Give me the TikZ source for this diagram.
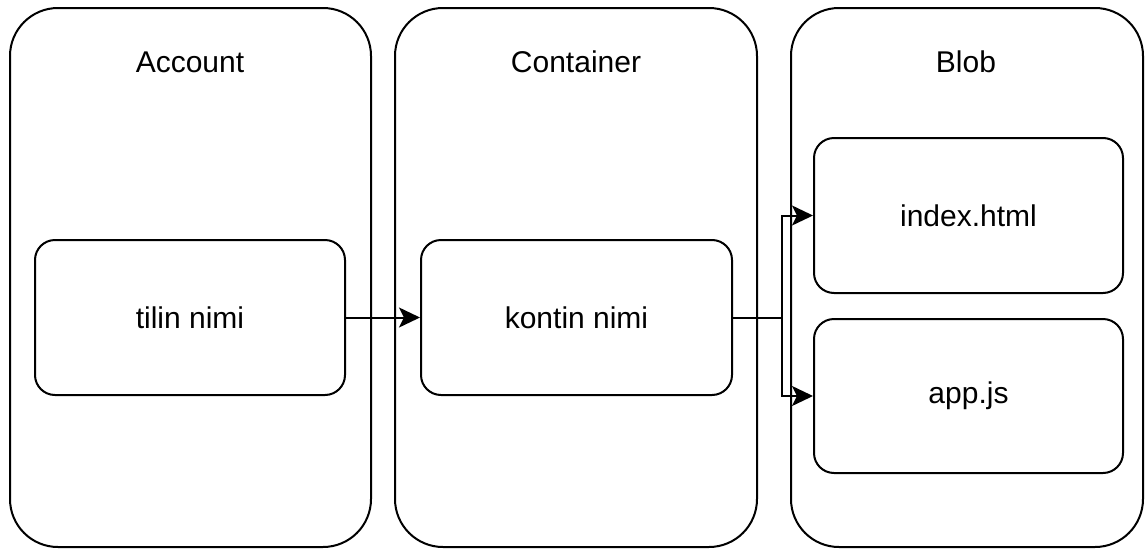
\documentclass[tikz,border=0pt]{standalone}
\usepackage{fontspec}
\setmainfont{Liberation Sans}
\usetikzlibrary{arrows.meta}
\begin{document}
\begin{tikzpicture}[x=1pt,y=-1pt,
  line width=2pt,
  every node/.style={font=\fontsize{30}{36}\selectfont},
  group/.style={draw, rectangle, rounded corners=48pt, inner sep=0pt},
  item/.style={draw, rectangle, rounded corners=20pt, inner sep=0pt,
               minimum width=310pt, minimum height=155pt},
  title/.style={inner sep=0pt, anchor=base},
  link/.style={-{Stealth[length=21pt,width=20pt,inset=5pt]}}]
\useasboundingbox (0,0) rectangle (1146,549);

% columns
\node[group, minimum width=361pt, minimum height=539pt] (account) at (190.5,277.5) {};
\node[group, minimum width=362pt, minimum height=539pt] (container) at (576,277.5) {};
\node[group, minimum width=352pt, minimum height=539pt] (blob) at (967,277.5) {};

% column titles
\node[title] (accountTitle) at (190,72) {Account};
\node[title] (containerTitle) at (576,72) {Container};
\node[title] (blobTitle) at (966,72) {Blob};

% entries
\node[item] (tilin) at (190,317.5) {tilin nimi};
\node[item, minimum width=311pt] (kontin) at (576.5,317.5) {kontin nimi};
\node[item, minimum width=309pt] (index) at (968.5,215.5) {index.html};
\node[item, minimum width=309pt, minimum height=154pt] (app) at (968.5,396) {app.js};

% connectors
\coordinate (split) at (782,317.5);
\draw[link] (tilin.east) -- (kontin.west);
\draw[link] (kontin.east) -- (split) |- (index.west);
\draw[link] (kontin.east) -- (split) |- (app.west);
\end{tikzpicture}
\end{document}
